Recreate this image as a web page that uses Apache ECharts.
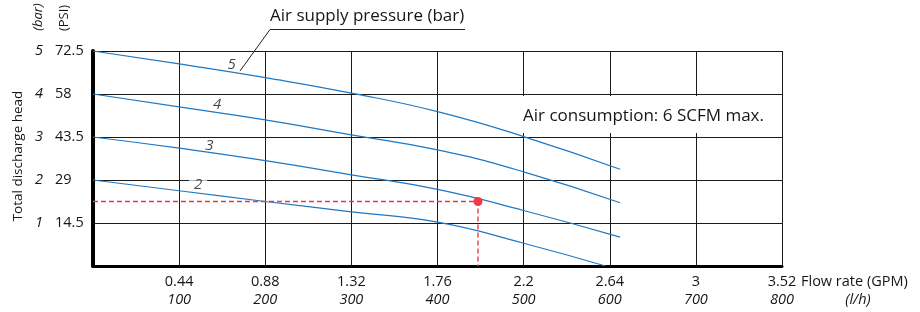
<!DOCTYPE html>
<html><head><meta charset="utf-8">
<script src="https://cdn.jsdelivr.net/npm/echarts@6/dist/echarts.min.js"></script>
<style>html,body{margin:0;padding:0;background:#fff}#c{width:920px;height:312px}</style>
</head><body><div id="c"></div>
<script>
// Flow rate (l/h) tick values and their GPM labels
const xTicks = [0, 100, 200, 300, 400, 500, 600, 700, 800];
const gpmLabels = ['', '0.44', '0.88', '1.32', '1.76', '2.2', '2.64', '3', '3.52'];
const lhLabels = ['', '100', '200', '300', '400', '500', '600', '700', '800'];
// Head (bar) ticks and PSI labels
const barLabels = ['', '1', '2', '3', '4', '5'];
const psiLabels = ['', '14.5', '29', '43.5', '58', '72.5'];

// Curves for air supply pressure 5,4,3,2 bar: [flow l/h, head bar]
const curve5 = [[0, 5.0], [100, 4.70], [200, 4.38], [300, 4.02], [400, 3.59], [500, 3.01], [612, 2.25]];
const curve4 = [[0, 4.0], [100, 3.70], [200, 3.40], [300, 3.05], [400, 2.70], [500, 2.19], [612, 1.47]];
const curve3 = [[0, 3.0], [100, 2.74], [200, 2.45], [300, 2.12], [400, 1.78], [500, 1.29], [612, 0.67]];
const curve2 = [[0, 2.0], [100, 1.75], [200, 1.50], [300, 1.26], [400, 1.02], [500, 0.53], [595, 0.0]];
// Curve number label anchors
const curveLabels = [[161, 4.67, '5'], [144, 3.74, '4'], [135, 2.79, '3'], [122, 1.88, '2']];
// Example operating point
const opPoint = [447, 1.5];

const FONT = 'Open Sans';
const BLUE = '#1f78c4';
const RED = '#ee3a46';
const TXT = '#161616';
const AX = 14.5;
const chart = echarts.init(document.getElementById('c'), null, {renderer: 'canvas'});

const lineSeries = (d) => ({
  type: 'line', data: d, symbol: 'none', smooth: 0.5, silent: true,
  lineStyle: {color: BLUE, width: 1.2}, z: 3
});

const txt = (text, x, y, size, opts) => Object.assign({
  type: 'text', z: 100, x: x, y: y,
  style: {text: text, fontSize: size, fontFamily: FONT, fill: TXT, align: 'left', verticalAlign: 'middle'}
}, opts || {});

chart.setOption({
  animation: false,
  backgroundColor: '#fff',
  textStyle: {fontFamily: FONT},
  grid: {left: 93, right: 138, top: 51, bottom: 46, containLabel: false},
  xAxis: {
    type: 'value', min: 0, max: 800, interval: 100,
    axisLine: {show: true, onZero: false, lineStyle: {color: '#000', width: 3}},
    axisTick: {show: false},
    splitLine: {show: true, lineStyle: {color: '#1a1a1a', width: 1}},
    axisLabel: {
      margin: 7, color: TXT, fontFamily: FONT,
      formatter: (v) => {
        const i = xTicks.indexOf(v);
        if (i <= 0) return '';
        return '{g|' + gpmLabels[i] + '}\n{l|' + lhLabels[i] + '}';
      },
      rich: {
        g: {fontSize: AX, lineHeight: 18, fontFamily: FONT, color: TXT},
        l: {fontSize: AX, lineHeight: 18, fontFamily: FONT, fontStyle: 'italic', color: TXT}
      }
    }
  },
  yAxis: {
    type: 'value', min: 0, max: 5, interval: 1,
    axisLine: {show: true, onZero: false, lineStyle: {color: '#000', width: 4}},
    axisTick: {show: false},
    splitLine: {show: true, lineStyle: {color: '#1a1a1a', width: 1}},
    axisLabel: {
      align: 'left', margin: 58, color: TXT,
      formatter: (v) => v === 0 ? '' : '{b|' + barLabels[v] + '}{p|' + psiLabels[v] + '}',
      rich: {
        b: {width: 20, fontSize: AX, fontStyle: 'italic', fontFamily: FONT, color: TXT, align: 'left'},
        p: {fontSize: AX, fontFamily: FONT, color: TXT, align: 'left'}
      }
    }
  },
  series: [
    lineSeries(curve5), lineSeries(curve4), lineSeries(curve3), lineSeries(curve2),
    {
      type: 'line', data: [[0, opPoint[1]], opPoint, [opPoint[0], 0]], symbol: 'none', silent: true,
      lineStyle: {color: RED, width: 1.4, type: [5, 3], opacity: 1}, itemStyle: {color: RED}, z: 4
    },
    {
      type: 'scatter', data: [opPoint], symbolSize: 9, itemStyle: {color: RED, opacity: 1}, z: 5, silent: true
    },
    {
      type: 'scatter', symbolSize: 0, silent: true, z: 6,
      data: curveLabels.map(c => ({
        value: c,
        label: c[2] === '2' ? {backgroundColor: '#fff', padding: [0, 5, 0, 5], height: 10, lineHeight: 10} : {}
      })),
      label: {
        show: true, position: 'inside', formatter: (p) => p.value[2],
        fontSize: 15, fontStyle: 'italic', fontFamily: FONT, color: TXT
      }
    }
  ],
  graphic: [
    txt('Total discharge head', 18, 156, 13, {rotation: Math.PI / 2, style: {text: 'Total discharge head', fontSize: 13.5, fontFamily: FONT, fill: TXT, align: 'center', verticalAlign: 'middle'}}),
    txt('(bar)', 38, 17, 13, {rotation: Math.PI / 2, style: {text: '(bar)', fontSize: 13, fontStyle: 'italic', fontFamily: FONT, fill: TXT, align: 'center', verticalAlign: 'middle'}}),
    txt('(PSI)', 64, 18, 13, {rotation: Math.PI / 2, style: {text: '(PSI)', fontSize: 13, fontFamily: FONT, fill: TXT, align: 'center', verticalAlign: 'middle'}}),
    txt('Air supply pressure (bar)', 270, 16, 17),
    {type: 'polyline', z: 100, shape: {points: [[240, 71], [270, 29.5], [465, 29.5]]},
      style: {stroke: '#222', lineWidth: 1, fill: null}},
    {type: 'rect', z: 99, shape: {x: 517, y: 96, width: 257, height: 37}, style: {fill: '#fff'}},
    txt('Air consumption: 6 SCFM max.', 523, 116, 17),
    txt('Flow rate (GPM)', 801, 282, AX),
    txt('(l/h)', 858, 300, AX, {style: {text: '(l/h)', fontSize: AX, fontStyle: 'italic', fontFamily: FONT, fill: TXT, align: 'center', verticalAlign: 'middle'}})
  ]
});
</script></body></html>
